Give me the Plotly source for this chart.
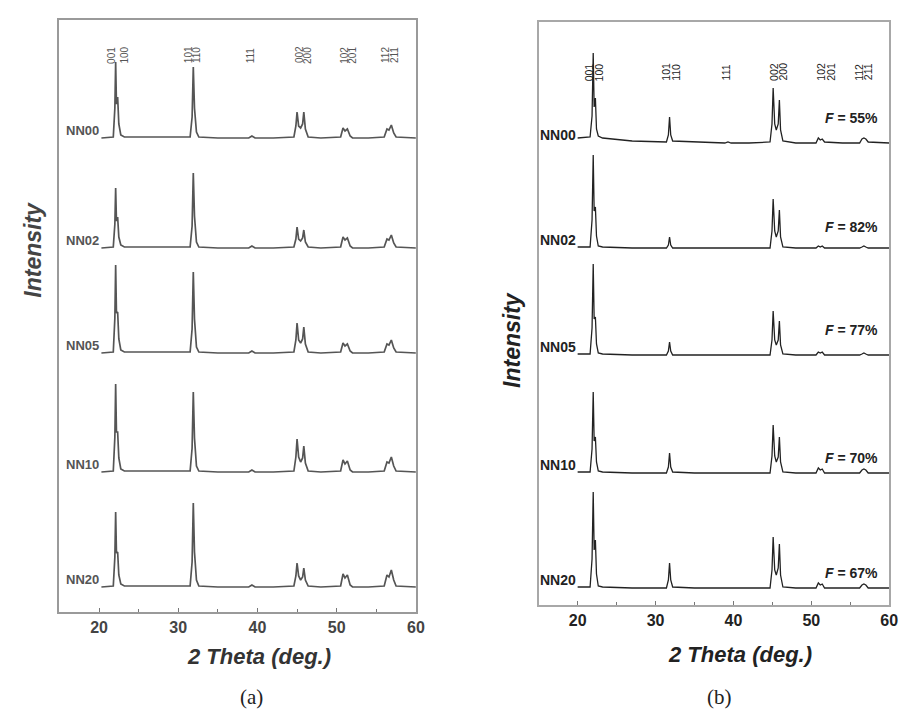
import plotly.graph_objects as go

# ---------------- data ----------------
samples = ["NN00", "NN02", "NN05", "NN10", "NN20"]

# panel (a): 2-theta sample points and intensities (arb. units)
two_theta_a = [20.3, 21.8, 22.0, 22.1, 22.2, 22.35, 22.5, 22.75, 23.2, 27.0,
               31.5, 31.75, 31.9, 32.05, 32.3, 32.6, 35.0, 38.9, 39.3, 39.7,
               42.0, 44.6, 44.85, 45.0, 45.2, 45.45, 45.7, 45.85, 46.05, 46.4,
               48.0, 50.5, 50.8, 51.05, 51.35, 51.7, 52.0, 54.0, 56.0, 56.35,
               56.6, 56.9, 57.2, 57.5, 60.0]
int_a_nn00 = [0, 1, 30, 76, 34, 41, 14, 3, 1, 1, 1, 21, 71, 30, 6, 1, 0, 0, 2, 0,
              0, 1, 12, 26, 12, 10, 14, 26, 9, 1, 0, 1, 10, 7, 9, 2, 0, 0, 1, 9,
              8, 13, 5, 1, 0]
int_a_nn02 = [0, 1, 24, 60, 27, 31, 11, 3, 1, 1, 1, 22, 75, 32, 6, 1, 0, 0, 2, 0,
              0, 1, 9, 21, 9, 7, 10, 18, 6, 1, 0, 1, 11, 8, 10, 2, 0, 0, 1, 9,
              8, 13, 5, 1, 0]
int_a_nn05 = [0, 1, 35, 88, 40, 41, 14, 3, 1, 1, 1, 24, 81, 34, 6, 1, 0, 0, 2, 0,
              0, 1, 13, 30, 13, 10, 14, 26, 9, 1, 0, 1, 10, 7, 9, 2, 0, 0, 1, 9,
              8, 13, 5, 1, 0]
int_a_nn10 = [0, 1, 35, 88, 40, 40, 14, 3, 1, 1, 1, 24, 80, 34, 6, 1, 0, 0, 2, 0,
              0, 1, 15, 33, 15, 10, 14, 26, 9, 1, 0, 1, 12, 8, 11, 2, 0, 0, 1, 10,
              9, 15, 6, 1, 0]
int_a_nn20 = [0, 1, 30, 75, 34, 35, 12, 3, 1, 1, 1, 25, 84, 35, 7, 1, 0, 0, 2, 0,
              0, 1, 11, 24, 11, 7, 10, 19, 7, 1, 0, 1, 13, 9, 12, 2, 0, 0, 1, 12,
              10, 17, 7, 1, 0]

# panel (b)
two_theta_b = [20.0, 21.6, 21.85, 22.0, 22.12, 22.28, 22.42, 22.65, 23.2, 27.0,
               31.4, 31.65, 31.8, 31.95, 32.2, 35.0, 38.9, 39.3, 39.7, 42.0,
               44.7, 44.95, 45.1, 45.3, 45.5, 45.75, 45.9, 46.05, 46.35, 48.0,
               50.6, 50.9, 51.15, 51.4, 51.7, 54.0, 56.2, 56.5, 56.75, 57.0,
               57.3, 60.0]
int_b_nn00 = [5, 6, 27, 90, 36, 45, 14, 7, 5, 2, 1, 8, 26, 8, 2, 1, 0, 1, 0, 0,
              1, 19, 55, 19, 13, 19, 43, 13, 2, 0, 0, 5, 3, 4, 1, 0, 0, 4, 5, 4,
              1, 0]
int_b_nn02 = [1, 1, 28, 93, 37, 41, 12, 2, 1, 0, 0, 3, 11, 3, 0, 0, 0, 0, 0, 0,
              0, 17, 49, 17, 11, 17, 38, 11, 1, 0, 0, 2, 1, 2, 0, 0, 0, 1, 2, 1,
              0, 0]
int_b_nn05 = [1, 1, 27, 91, 36, 38, 11, 2, 1, 0, 0, 4, 13, 4, 0, 0, 0, 0, 0, 0,
              0, 15, 44, 15, 10, 15, 34, 10, 1, 0, 0, 3, 2, 3, 0, 0, 0, 1, 2, 1,
              0, 0]
int_b_nn10 = [1, 1, 24, 81, 32, 36, 11, 2, 1, 0, 0, 6, 20, 6, 1, 0, 0, 0, 0, 0,
              0, 17, 48, 17, 11, 16, 36, 11, 1, 0, 0, 5, 3, 4, 0, 0, 0, 3, 4, 3,
              0, 0]
int_b_nn20 = [1, 1, 29, 96, 38, 48, 14, 2, 1, 0, 0, 8, 25, 8, 1, 0, 0, 0, 0, 0,
              0, 18, 51, 18, 13, 20, 44, 13, 1, 0, 0, 5, 3, 4, 0, 0, 0, 3, 4, 3,
              0, 0]

f_values = ["55%", "82%", "77%", "70%", "67%"]

hkl_labels = ["001", "100", "101", "110", "111", "002", "200", "102", "201", "112", "211"]
hkl_pos_a = [21.5, 23.1, 31.25, 32.25, 39.1, 45.25, 46.25, 50.9, 51.9, 56.1, 57.25]
hkl_pos_b = [21.5, 22.8, 31.3, 32.6, 39.1, 45.2, 46.3, 51.2, 52.5, 56.1, 57.3]

x_ticks = [20, 30, 40, 50, 60]

# ---------------- layout / styling ----------------
W, H = 921, 715
offsets_a = [474, 364, 259, 140, 25]      # vertical stacking offsets (panel a)
offsets_b = [462, 357, 250, 132, 17]      # vertical stacking offsets (panel b)
f_label_y = [487, 378, 275, 147, 32]
FONT = "Liberation Sans, Arial, sans-serif"

def px_x(px):
    return px / W

def px_y(py):
    return 1 - py / H

fig = go.Figure()

series_a = [int_a_nn00, int_a_nn02, int_a_nn05, int_a_nn10, int_a_nn20]
series_b = [int_b_nn00, int_b_nn02, int_b_nn05, int_b_nn10, int_b_nn20]

for name, ys, off in zip(samples, series_a, offsets_a):
    fig.add_trace(go.Scatter(x=two_theta_a, y=[v + off for v in ys], mode="lines",
                             line=dict(color="#555555", width=1.7), name=name,
                             xaxis="x", yaxis="y", showlegend=False, hoverinfo="skip"))
for name, ys, off in zip(samples, series_b, offsets_b):
    fig.add_trace(go.Scatter(x=two_theta_b, y=[v + off for v in ys], mode="lines",
                             line=dict(color="#222222", width=1.3), name=name,
                             xaxis="x2", yaxis="y2", showlegend=False, hoverinfo="skip"))

ann = []
# sample labels
for name, off in zip(samples, offsets_a):
    ann.append(dict(x=two_theta_a[0], y=off + 8, xref="x", yref="y", text="<b>" + name + "</b>",
                    showarrow=False, xanchor="right", yanchor="middle",
                    font=dict(family=FONT, size=13, color="#555555")))
for name, off in zip(samples, offsets_b):
    ann.append(dict(x=two_theta_b[0], y=off + 8, xref="x2", yref="y2", text="<b>" + name + "</b>",
                    showarrow=False, xanchor="right", yanchor="middle",
                    font=dict(family=FONT, size=14, color="#222222")))
# F labels
for fv, fy in zip(f_values, f_label_y):
    ann.append(dict(x=58.8, y=fy, xref="x2", yref="y2", text="<b><i>F</i> = " + fv + "</b>",
                    showarrow=False, xanchor="right", yanchor="middle",
                    font=dict(family=FONT, size=14, color="#222222")))
# hkl labels
for lab, xa, xb in zip(hkl_labels, hkl_pos_a, hkl_pos_b):
    ann.append(dict(x=xa, y=557, xref="x", yref="y", text=lab, textangle=-90,
                    showarrow=False, xanchor="center", yanchor="middle",
                    font=dict(family=FONT, size=10, color="#555555")))
    ann.append(dict(x=xb, y=533, xref="x2", yref="y2", text=lab, textangle=-90,
                    showarrow=False, xanchor="center", yanchor="middle",
                    font=dict(family=FONT, size=10.5, color="#222222")))
# axis titles
ann.append(dict(x=px_x(33), y=px_y(250), xref="paper", yref="paper", text="<b><i>Intensity</i></b>",
                textangle=-90, showarrow=False, xanchor="center", yanchor="middle",
                font=dict(family=FONT, size=23, color="#444444")))
ann.append(dict(x=px_x(517), y=px_y(340), xref="paper", yref="paper", text="<b><i>Intensity</i></b>",
                textangle=-90, showarrow=False, xanchor="center", yanchor="middle",
                font=dict(family=FONT, size=23, color="#222222")))
ann.append(dict(x=px_x(262), y=px_y(656), xref="paper", yref="paper", text="<b><i>2 Theta (deg.)</i></b>",
                showarrow=False, xanchor="center", yanchor="middle",
                font=dict(family=FONT, size=22, color="#333333")))
ann.append(dict(x=px_x(747), y=px_y(654), xref="paper", yref="paper", text="<b><i>2 Theta (deg.)</i></b>",
                showarrow=False, xanchor="center", yanchor="middle",
                font=dict(family=FONT, size=22, color="#222222")))
# captions
ann.append(dict(x=px_x(254), y=px_y(697), xref="paper", yref="paper", text="(a)",
                showarrow=False, xanchor="center", yanchor="middle",
                font=dict(family="Liberation Serif, serif", size=21, color="#222222")))
ann.append(dict(x=px_x(727), y=px_y(697), xref="paper", yref="paper", text="(b)",
                showarrow=False, xanchor="center", yanchor="middle",
                font=dict(family="Liberation Serif, serif", size=21, color="#222222")))

def xaxis_style(domain, anchor, linecolor, tickfontcolor):
    return dict(domain=domain, anchor=anchor, range=[15, 60], tickvals=x_ticks,
                ticktext=["<b>%d</b>" % t for t in x_ticks],
                showline=True, linecolor=linecolor, linewidth=1.5, mirror=True,
                ticks="inside", ticklen=4, tickcolor="#777777", tickwidth=1,
                minor=dict(tickvals=[25, 35, 45, 55], ticks="inside", ticklen=3,
                           tickcolor="#777777"),
                showgrid=False, zeroline=False, fixedrange=True,
                tickfont=dict(family=FONT, size=16, color=tickfontcolor))

def yaxis_style(domain, anchor, rng, linecolor):
    return dict(domain=domain, anchor=anchor, range=rng, showline=True, linecolor=linecolor,
                linewidth=1.5, mirror=True, ticks="", showticklabels=False,
                showgrid=False, zeroline=False, fixedrange=True)

fig.update_layout(
    width=W, height=H, autosize=False,
    margin=dict(l=0, r=0, t=0, b=0),
    paper_bgcolor="white", plot_bgcolor="white",
    xaxis=xaxis_style([px_x(60), px_x(420)], "y", "#9a9a9a", "#444444"),
    yaxis=yaxis_style([px_y(612), px_y(20)], "x", [0, 592], "#9a9a9a"),
    xaxis2=xaxis_style([px_x(544), px_x(898)], "y2", "#a8a8a8", "#222222"),
    yaxis2=yaxis_style([px_y(605), px_y(22)], "x2", [0, 583], "#a8a8a8"),
    annotations=ann,
    showlegend=False,
    hovermode=False,
)

fig.write_html("out.html", config={"displayModeBar": False},
               post_script="document.body.style.margin='0px';document.body.style.padding='0px';")
